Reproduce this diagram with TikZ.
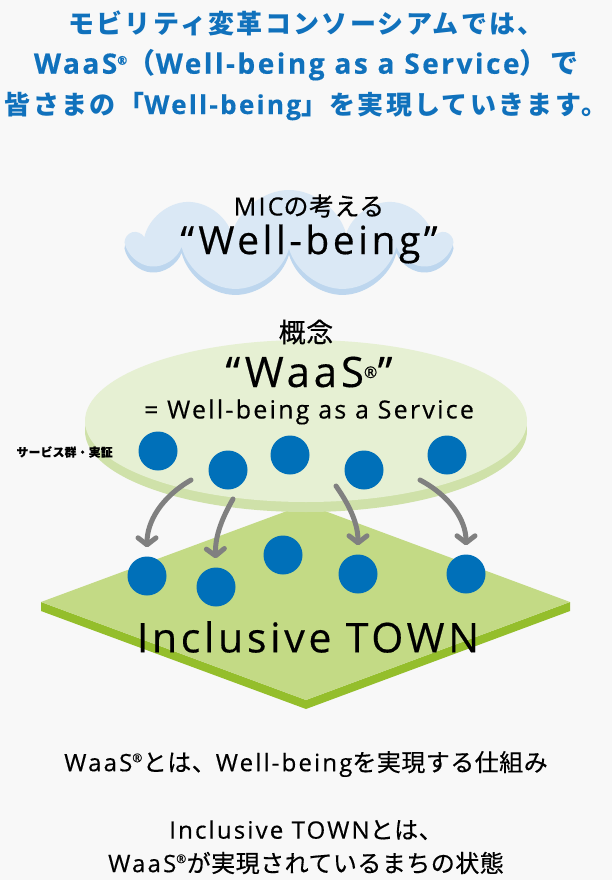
\documentclass[tikz,border=0pt]{standalone}
\usepackage{fontspec}
\setmainfont{Open Sans}[LetterSpace=9, FakeBold=0.4]
\newfontfamily\jp{Noto Sans CJK JP}[LetterSpace=2, FakeBold=0.4]
\newfontfamily\jpt{Noto Sans CJK JP}[LetterSpace=9]
\usepackage{xcolor}
\usetikzlibrary{positioning, arrows.meta, shapes.symbols}

\definecolor{titleblue}{HTML}{1071BC}
\definecolor{dotblue}{HTML}{0070B9}
\definecolor{bggray}{HTML}{F8F8F8}
\definecolor{cloudtop}{HTML}{DAE8F5}
\definecolor{cloudrim}{HTML}{BDD6EE}
\definecolor{waastop}{HTML}{E6F0D3}
\definecolor{waasrim}{HTML}{CFE1A9}
\definecolor{towntop}{HTML}{C3DA85}
\definecolor{townrim}{HTML}{94BE2B}
\definecolor{flowgray}{HTML}{808080}

\newcommand{\regmark}{\textsuperscript{\fontsize{12}{12}\selectfont ®}}

\begin{document}
\begin{tikzpicture}[
    x=1pt, y=1pt,
    title/.style={text=titleblue, font=\fontsize{26}{40}\selectfont\bfseries, align=center},
    label/.style={text=black, align=center},
    note/.style={label, font=\fontsize{24}{24}\selectfont},
    dot/.style={circle, fill=dotblue, minimum size=39pt, inner sep=0pt},
    puff/.style={cloud, cloud puffs=9, aspect=3.2, minimum width=318pt, minimum height=102pt},
    flow/.style={-{Straight Barb[length=7pt, width=18pt, round]}, line width=5pt, line cap=round, flowgray, shorten >=9pt}
]

\useasboundingbox[fill=bggray] (0,0) rectangle (612,-880);

% Title
\node[title] (t1) at (306,-23) {\jpt モビリティ変革コンソーシアムでは、};
\node[title, font=\fontsize{28}{40}\selectfont\bfseries] (t2) at (306,-65) {WaaS\regmark{\jpt （}Well-being as a Service{\jpt ）で}};
\node[title] (t3) at (306,-106) {{\jpt 皆さまの「}Well-being{\jpt 」を実現していきます。}};

% Cloud: Well-being
\node[puff, fill=cloudrim] (wellshadow) at (289,-247) {};
\node[puff, fill=cloudtop] (wellcloud) at (289,-241) {};
\node[label, font=\fontsize{25}{25}\selectfont] (mic) at (309,-206) {MIC{\jp の考える}};
\node[label, font=\fontsize{39}{39}\selectfont] (well) at (309,-244) {“Well-being”};

% Town: diamond with rim
\fill[townrim] (41,-602) -- (306,-700) -- (570,-602) -- (570,-611) -- (306,-709) -- (41,-611) -- cycle;
\fill[towntop] (306,-504) -- (570,-602) -- (306,-700) -- (41,-602) -- cycle;
\node[label, font=\fontsize{41}{41}\selectfont] (town) at (308,-637) {Inclusive TOWN};

% WaaS: ellipse with rim
\fill[waasrim] (306,-431) ellipse [x radius=221, y radius=81];
\fill[waastop] (306,-421) ellipse [x radius=221, y radius=81];
\node[label, font=\jp\fontsize{27}{27}\selectfont] (concept) at (306,-332) {概念};
\node[label, font=\fontsize{42}{42}\selectfont] (waas) at (309,-372) {“WaaS\textsuperscript{\fontsize{16}{16}\selectfont ®}”};
\node[label, font=\fontsize{25}{25}\selectfont] (waasdef) at (309,-412) {= Well-being as a Service};
\node[label, font=\jp\fontsize{11.8}{11.8}\selectfont\bfseries, anchor=west] (services) at (13,-452) {サービス群・実証};

% Services (top) and town (bottom)
\node[dot] (a1) at (158,-451) {};
\node[dot] (a2) at (228,-470) {};
\node[dot] (a3) at (290,-455) {};
\node[dot] (a4) at (364,-470) {};
\node[dot] (a5) at (447,-455) {};

\node[dot] (b1) at (147,-576) {};
\node[dot] (b2) at (216,-587) {};
\node[dot] (b3) at (283,-555) {};
\node[dot] (b4) at (358,-574) {};
\node[dot] (b5) at (466,-574) {};

\coordinate (s1) at (191,-480);
\coordinate (s2) at (233,-499);
\coordinate (s3) at (336,-486);
\coordinate (s4) at (420,-480);

\draw[flow] (s1) to[out=210, in=90] (b1.north);
\draw[flow] (s2) to[out=240, in=92] (b2.north);
\draw[flow] (s3) to[out=-55, in=90] (b4.north);
\draw[flow] (s4) to[out=-28, in=90] (b5.north);

% Bottom notes
\node[note] (note1) at (306,-764) {WaaS\regmark{\jp とは、}Well-being{\jp を実現する仕組み}};
\node[note] (note2) at (306,-830) {Inclusive TOWN{\jp とは、}};
\node[note] (note3) at (306,-863) {WaaS\regmark{\jp が実現されているまちの状態}};

\end{tikzpicture}
\end{document}
